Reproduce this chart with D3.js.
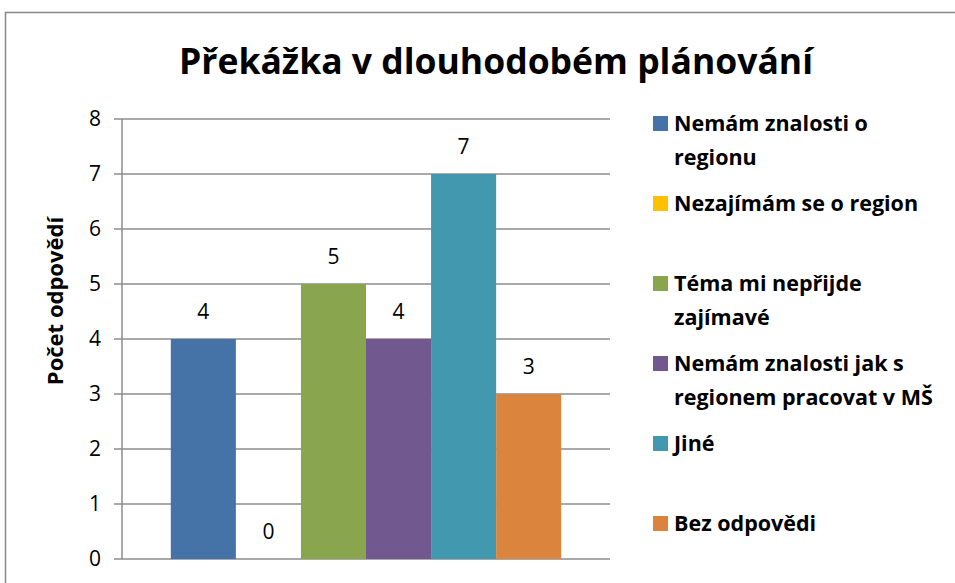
<!DOCTYPE html>
<html>
<head>
<meta charset="utf-8">
<script src="https://cdn.jsdelivr.net/npm/d3@7"></script>
<style>
  body { margin: 0; background: #fff; }
  text { font-family: "Open Sans", "Noto Sans", sans-serif; }
</style>
</head>
<body>
<div id="chart"></div>
<script>
// data
var categories = ["Nemám znalosti o regionu", "Nezajímám se o region", "Téma mi nepřijde zajímavé",
  "Nemám znalosti jak s regionem pracovat v MŠ", "Jiné", "Bez odpovědi"];
var values = [4, 0, 5, 4, 7, 3];
var colors = ["#4572A7", "#FFC000", "#89A54E", "#71588F", "#4198AF", "#DB843D"];
var legendLines = [["Nemám znalosti o", "regionu"], ["Nezajímám se o region"], ["Téma mi nepřijde", "zajímavé"],
  ["Nemám znalosti jak s", "regionem pracovat v MŠ"], ["Jiné"], ["Bez odpovědi"]];
var yTicks = [0, 1, 2, 3, 4, 5, 6, 7, 8];

var width = 955, height = 583;
var svg = d3.select("#chart").append("svg")
  .attr("width", width).attr("height", height);

// outer frame, runs off the right and bottom
svg.append("rect")
  .attr("x", 5.5).attr("y", 12.5)
  .attr("width", 1000).attr("height", 1000)
  .attr("fill", "none").attr("stroke", "#888").attr("stroke-width", 1.5);

svg.append("text")
  .attr("x", 496).attr("y", 74)
  .attr("text-anchor", "middle")
  .style("font-size", "35.5px").style("font-weight", "bold")
  .text("Překážka v dlouhodobém plánování");

var plot = { left: 122, right: 610, top: 119, bottom: 559 };

var y = d3.scaleLinear().domain([0, 8]).range([plot.bottom, plot.top]);
var x = d3.scaleBand().domain(categories)
  .range([plot.left, plot.right])
  .paddingInner(0).paddingOuter(0.75);

// gridlines
svg.append("g").selectAll("line")
  .data(yTicks)
  .enter().append("line")
    .attr("x1", plot.left - 8).attr("x2", plot.right)
    .attr("y1", function(d) { return y(d); })
    .attr("y2", function(d) { return y(d); })
    .attr("stroke", "#8c8c8c").attr("stroke-width", 1.5);

svg.append("line")
  .attr("x1", plot.left).attr("x2", plot.left)
  .attr("y1", plot.top).attr("y2", plot.bottom)
  .attr("stroke", "#8c8c8c").attr("stroke-width", 1.5);

// y axis labels
svg.append("g").selectAll("text")
  .data(yTicks)
  .enter().append("text")
    .attr("x", 101)
    .attr("y", function(d) { return y(d); })
    .attr("dy", "0.35em")
    .attr("text-anchor", "end")
    .style("font-size", "21px")
    .text(function(d) { return d; });

svg.append("text")
  .attr("transform", "translate(63,301)rotate(-90)")
  .attr("text-anchor", "middle")
  .style("font-size", "22px").style("font-weight", "bold")
  .text("Počet odpovědí");

// bars
svg.append("g").selectAll("rect")
  .data(values)
  .enter().append("rect")
    .attr("x", function(d, i) { return x(categories[i]); })
    .attr("y", function(d) { return y(d); })
    .attr("width", x.bandwidth())
    .attr("height", function(d) { return y(0) - y(d); })
    .attr("fill", function(d, i) { return colors[i]; });

svg.append("g").selectAll("text")
  .data(values)
  .enter().append("text")
    .attr("x", function(d, i) { return x(categories[i]) + x.bandwidth() / 2; })
    .attr("y", function(d) { return y(d) - 27; })
    .attr("dy", "0.35em")
    .attr("text-anchor", "middle")
    .style("font-size", "21px")
    .text(function(d) { return d; });

// legend
var legend = svg.append("g").selectAll("g")
  .data(legendLines)
  .enter().append("g")
    .attr("transform", function(d, i) { return "translate(653," + (123 + i * 80) + ")"; });

legend.append("rect")
  .attr("x", 0).attr("y", -7)
  .attr("width", 15).attr("height", 15)
  .attr("fill", function(d, i) { return colors[i]; });

legend.append("text")
  .attr("x", 21).attr("y", 0)
  .style("font-size", "21.5px").style("font-weight", "bold")
  .selectAll("tspan")
  .data(function(d) { return d; })
  .enter().append("tspan")
    .attr("x", 21)
    .attr("dy", function(d, i) { return i === 0 ? "0.35em" : "34px"; })
    .text(function(d) { return d; });
</script>
</body>
</html>
